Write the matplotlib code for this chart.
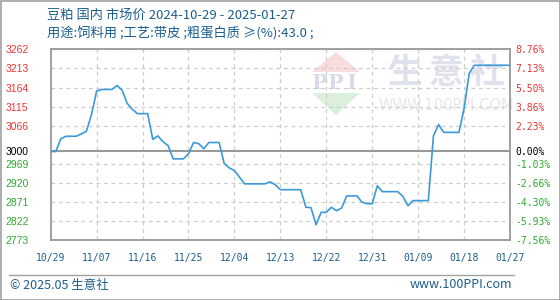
import matplotlib
matplotlib.use("Agg")
import matplotlib.pyplot as plt
import matplotlib.dates as mdates
from matplotlib.patches import Polygon, Rectangle
import pandas as pd

# ---- data ----
dates = ["2024-10-29", "2024-10-30", "2024-10-31", "2024-11-01", "2024-11-03", "2024-11-04",
         "2024-11-05", "2024-11-06", "2024-11-07", "2024-11-08", "2024-11-10", "2024-11-11",
         "2024-11-12", "2024-11-13", "2024-11-14", "2024-11-15", "2024-11-17", "2024-11-18",
         "2024-11-19", "2024-11-20", "2024-11-21", "2024-11-22", "2024-11-24", "2024-11-25",
         "2024-11-26", "2024-11-27", "2024-11-28", "2024-11-29", "2024-12-01", "2024-12-02",
         "2024-12-03", "2024-12-04", "2024-12-05", "2024-12-06", "2024-12-10", "2024-12-11",
         "2024-12-12", "2024-12-13", "2024-12-17", "2024-12-18", "2024-12-19", "2024-12-20",
         "2024-12-21", "2024-12-22", "2024-12-23", "2024-12-24", "2024-12-25", "2024-12-26",
         "2024-12-28", "2024-12-29", "2024-12-30", "2024-12-31", "2025-01-01", "2025-01-02",
         "2025-01-05", "2025-01-06", "2025-01-07", "2025-01-08", "2025-01-11", "2025-01-12",
         "2025-01-13", "2025-01-14", "2025-01-17", "2025-01-18", "2025-01-19", "2025-01-20",
         "2025-01-27"]
prices = [3000, 3000, 3033, 3039, 3039, 3045,
          3052, 3095, 3155, 3159, 3159, 3169,
          3157, 3123, 3108, 3097, 3097, 3031,
          3040, 3025, 3015, 2981, 2981, 2994,
          3023, 3020, 3007, 3023, 3023, 2969,
          2958, 2951, 2934, 2917, 2917, 2922,
          2915, 2902, 2902, 2857, 2856, 2812,
          2844, 2844, 2857, 2848, 2855, 2886,
          2886, 2870, 2866, 2866, 2912, 2897,
          2897, 2885, 2861, 2874, 2874, 3040,
          3069, 3049, 3049, 3110, 3200, 3221,
          3221]
y_ticks = [3262, 3213, 3164, 3115, 3066, 3000, 2969, 2920, 2871, 2822, 2773]
pct_labels = ["8.76%", "7.13%", "5.50%", "3.86%", "2.23%", "0.00%",
              "-1.03%", "-2.66%", "-4.30%", "-5.93%", "-7.56%"]
x_tick_labels = ["10/29", "11/07", "11/16", "11/25", "12/04", "12/13",
                 "12/22", "12/31", "01/09", "01/18", "01/27"]
base_price = 3000
title1 = "豆粕 国内 市场价 2024-10-29 - 2025-01-27"
title2 = "用途:饲料用 ;工艺:带皮 ;粗蛋白质 ≥(%):43.0 ;"
footer_left = "© 2025.05 生意社"
footer_right = "www.100PPI.com"

CJK = ["Noto Sans CJK SC", "DejaVu Sans"]
BLUE_TXT = "#1b5e8e"
RED = "#f03434"
GREEN = "#2eaa2e"

W, H = 560, 300
fig = plt.figure(figsize=(W / 100, H / 100), dpi=100)

# background / overlay axes in pixel coords
bg = fig.add_axes([0, 0, 1, 1], zorder=0)
bg.set_xlim(0, W)
bg.set_ylim(H, 0)
bg.axis("off")

# watermark logo
bg.add_patch(Polygon([[336, 52], [312, 72], [360, 72]], closed=True, color="#f9dcdc", lw=0))
bg.add_patch(Polygon([[312, 93], [360, 93], [336, 115]], closed=True, color="#dbf0db", lw=0))
for xx, ch in zip([320, 336, 352], "PPI"):
    bg.text(xx, 83, ch, ha="center", va="center", fontsize=15, fontweight="bold",
            family="DejaVu Serif", color="#d7dbea")
for xx, ch in zip([405, 446, 487], "生意社"):
    bg.text(xx, 72, ch, ha="center", va="center", fontsize=25, fontweight="bold",
            family=CJK, color="#dfe2ec")
bg.text(446, 106, "WWW.100PPI.COM", ha="center", va="center", fontsize=10.5,
        family="DejaVu Sans", color="#e6e6e6")

# titles
bg.text(47, 15, title1, ha="left", va="center", fontsize=9.5, family=CJK, color=BLUE_TXT)
bg.text(47, 33, title2, ha="left", va="center", fontsize=9.5, family=CJK, color=BLUE_TXT)

# footer
bg.plot([9, 514], [275, 275], color="#a0a0a0", lw=1)
bg.text(10, 285, footer_left, ha="left", va="center", fontsize=9, family=CJK, color=BLUE_TXT)
bg.text(512, 285, footer_right, ha="right", va="center", fontsize=9, family=CJK, color=BLUE_TXT)

# outer border
bg.add_patch(Rectangle((0.5, 0.5), W - 1, H - 1, fill=False, ec="#a0a0a0", lw=1.2))

# main axes
l, r, t, b = 50.7, 510, 49.3, 240
ax = fig.add_axes([l / W, 1 - b / H, (r - l) / W, (b - t) / H], zorder=1)
ax.patch.set_alpha(0)

x = mdates.date2num(pd.to_datetime(dates))
x0 = mdates.date2num(pd.Timestamp("2024-10-29"))
x1 = mdates.date2num(pd.Timestamp("2025-01-27"))
xt = [x0 + 9 * i for i in range(len(x_tick_labels))]

ax.axhline(base_price, color="#999999", lw=1.5, zorder=2)
ax.plot(x, prices, color="#3c98d8", lw=1.2, zorder=3)

ax.set_xlim(x0, x1)
ax.set_ylim(min(y_ticks), max(y_ticks))
ax.set_yticks(y_ticks)
ax.set_yticklabels([str(v) for v in y_ticks])
ax.set_xticks(xt)
ax.set_xticklabels(x_tick_labels)

for v in y_ticks:
    if v != base_price:
        ax.axhline(v, color="#cccccc", lw=0.9, ls=(0, (3, 3)), zorder=1)
for xv in xt[1:-1]:
    ax.axvline(xv, color="#cccccc", lw=0.9, ls=(0, (3, 3)), zorder=1)

for s in ax.spines.values():
    s.set_color("#999999")
    s.set_linewidth(1.3)

ax.tick_params(axis="y", length=0, pad=16, labelsize=7.5)
ax.tick_params(axis="x", length=0, pad=9, labelsize=7, labelcolor=BLUE_TXT)
for lab in ax.get_xticklabels():
    lab.set_family("DejaVu Sans Mono")
for lab, v in zip(ax.get_yticklabels(), y_ticks):
    lab.set_family("Liberation Sans")
    lab.set_color(RED if v > base_price else ("black" if v == base_price else GREEN))

ax2 = ax.twinx()
ax2.set_ylim(ax.get_ylim())
ax2.set_yticks(y_ticks)
ax2.set_yticklabels(pct_labels)
ax2.tick_params(axis="y", length=0, pad=4, labelsize=7)
for s in ax2.spines.values():
    s.set_visible(False)
for lab, v in zip(ax2.get_yticklabels(), y_ticks):
    lab.set_family("DejaVu Sans Mono")
    lab.set_color(RED if v > base_price else ("black" if v == base_price else GREEN))

fig.savefig("out.png", dpi=100)
